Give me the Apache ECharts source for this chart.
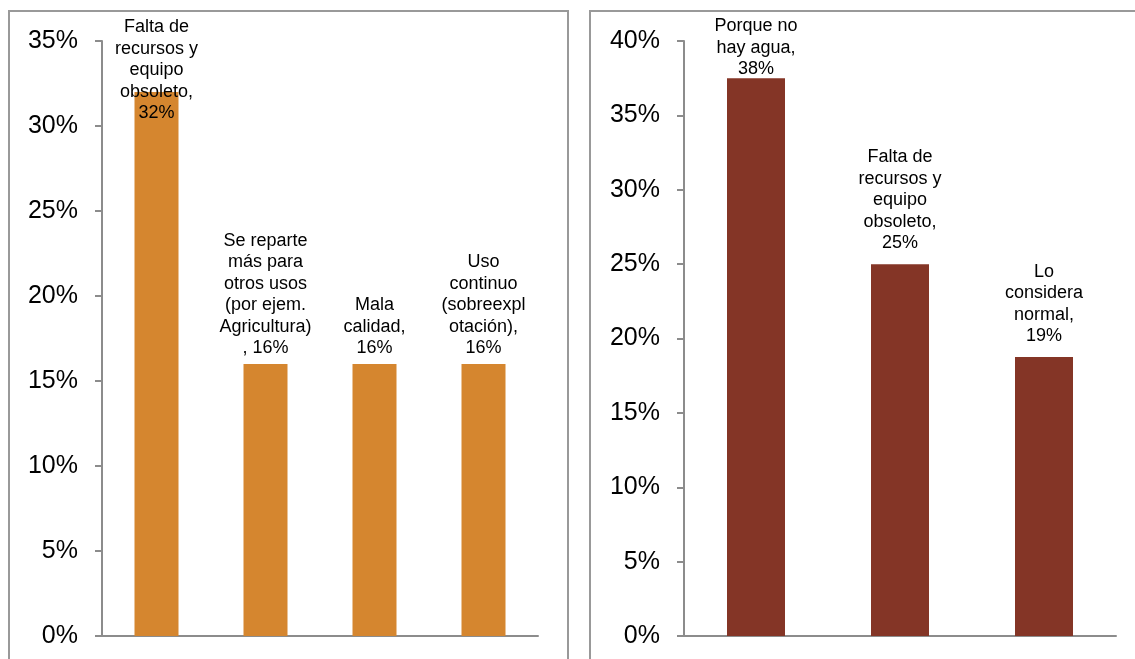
<!DOCTYPE html>
<html>
<head>
<meta charset="utf-8">
<script src="https://cdn.jsdelivr.net/npm/echarts@6/dist/echarts.min.js"></script>
<style>
html,body{margin:0;padding:0;background:#fff;}
#c{width:1135px;height:659px;}
</style>
</head>
<body>
<div id="c"></div>
<script>
// Left chart
var leftCategories = [
  "Falta de\nrecursos y\nequipo\nobsoleto",
  "Se reparte\nmás para\notros usos\n(por ejem.\nAgricultura)",
  "Mala\ncalidad",
  "Uso\ncontinuo\n(sobreexpl\notación)"
];
var leftSeparators = [",\n", "\n, ", ",\n", ",\n"];
var leftValues = [32, 16, 16, 16];
var leftTicks = { min: 0, max: 35, interval: 5 };

// Right chart
var rightCategories = [
  "Porque no\nhay agua",
  "Falta de\nrecursos y\nequipo\nobsoleto",
  "Lo\nconsidera\nnormal"
];
var rightSeparators = [",\n", ",\n", ",\n"];
var rightValues = [37.5, 25, 18.75];
var rightTicks = { min: 0, max: 40, interval: 5 };

var FONT = "'Liberation Sans', Arial, sans-serif";
var AXIS_COLOR = '#8c8c8c';

function makeLabel(seps) {
  return function (p) {
    return p.name + seps[p.dataIndex] + Math.round(p.value) + '%';
  };
}

function xAxis(idx, cats) {
  return {
    type: 'category', gridIndex: idx, data: cats,
    axisLine: { lineStyle: { color: AXIS_COLOR, width: 2 } },
    axisTick: { show: false },
    axisLabel: { show: false }
  };
}
function yAxis(idx, t) {
  return {
    type: 'value', gridIndex: idx, min: t.min, max: t.max, interval: t.interval,
    axisLine: { show: true, lineStyle: { color: AXIS_COLOR, width: 2 } },
    axisTick: { show: true, length: 7, lineStyle: { color: AXIS_COLOR, width: 2 } },
    splitLine: { show: false },
    axisLabel: { formatter: '{value}%', fontSize: 25, color: '#000', fontFamily: FONT, margin: 24, padding: [4, 0, 0, 0] }
  };
}

var labelBase = { show: true, position: 'top', color: '#000', fontSize: 18, lineHeight: 21.5, fontFamily: FONT, align: 'center' };

var leftData = leftValues.map(function (v, i) {
  var d = { value: v };
  if (i === 0) d.label = { distance: 5, offset: [0, 37] };
  return d;
});
var rightData = rightValues.map(function (v, i) {
  var d = { value: v };
  if (i === 0) d.label = { distance: 0, offset: [0, 2] };
  return d;
});

var chart = echarts.init(document.getElementById('c'), null, { renderer: 'canvas' });
chart.setOption({
  backgroundColor: '#fff',
  animation: false,
  graphic: [
    { type: 'rect', shape: { x: 9, y: 11, width: 559, height: 720 }, style: { fill: 'none', stroke: '#999', lineWidth: 2 }, z: -1 },
    { type: 'rect', shape: { x: 590, y: 11, width: 600, height: 720 }, style: { fill: 'none', stroke: '#999', lineWidth: 2 }, z: -1 }
  ],
  grid: [
    { left: 102, right: 597, top: 41, bottom: 23 },
    { left: 684, right: 19, top: 41, bottom: 23 }
  ],
  xAxis: [xAxis(0, leftCategories), xAxis(1, rightCategories)],
  yAxis: [yAxis(0, leftTicks), yAxis(1, rightTicks)],
  series: [
    {
      type: 'bar', xAxisIndex: 0, yAxisIndex: 0, data: leftData, barWidth: 44,
      itemStyle: { color: '#D5862F' },
      label: Object.assign({}, labelBase, { distance: 5, formatter: makeLabel(leftSeparators) })
    },
    {
      type: 'bar', xAxisIndex: 1, yAxisIndex: 1, data: rightData, barWidth: 58,
      itemStyle: { color: '#843526' },
      label: Object.assign({}, labelBase, { distance: 10, formatter: makeLabel(rightSeparators) })
    }
  ]
});
</script>
</body>
</html>
